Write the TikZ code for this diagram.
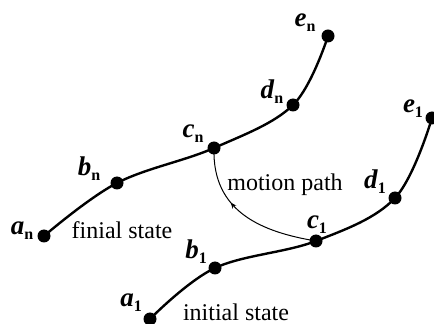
\documentclass[tikz,border=0pt]{standalone}
\usepackage{fontspec}
\setmainfont{Liberation Serif}
\usetikzlibrary{calc,arrows.meta,decorations.markings}

\newcommand{\ptname}[2]{\textbf{\textit{#1}}\raisebox{-0.4ex}{\fontsize{16}{16}\selectfont\bfseries #2}}

\begin{document}
\begin{tikzpicture}[x=1pt, y=1pt,
  dot/.style={circle, fill, inner sep=0pt, minimum size=13pt},
  lab/.style={font=\fontsize{27}{27}\selectfont, inner sep=0pt},
  txt/.style={font=\fontsize{24}{24}\selectfont, inner sep=0pt},
  track/.style={line width=2.4pt},
  motion/.style={line width=1pt, postaction={decorate},
    decoration={markings, mark=at position 0.62 with {\arrow{Stealth[length=6pt,width=5pt]}}}}]
  \useasboundingbox (0,0) rectangle (434,324);

  % final state
  \node[dot] (an) at (44,88) {};
  \node[dot] (bn) at (117,141) {};
  \node[dot] (cn) at (214,176) {};
  \node[dot] (dn) at (293,219) {};
  \node[dot] (en) at (328,288) {};

  % initial state
  \node[dot] (a1) at (150,5) {};
  \node[dot] (b1) at (215,56) {};
  \node[dot] (c1) at (316,83) {};
  \node[dot] (d1) at (395,126) {};
  \node[dot] (e1) at (432,206) {};

  % point names
  \node[lab] (an-l) at ($(an)+(-22,5)$) {\ptname{a}{n}};
  \node[lab] (bn-l) at ($(bn)+(-28,14)$) {\ptname{b}{n}};
  \node[lab] (cn-l) at ($(cn)+(-21,14)$) {\ptname{c}{n}};
  \node[lab] (dn-l) at ($(dn)+(-21,13)$) {\ptname{d}{n}};
  \node[lab] (en-l) at ($(en)+(-23,13)$) {\ptname{e}{n}};
  \node[lab] (a1-l) at ($(a1)+(-19,16)$) {\ptname{a}{1}};
  \node[lab] (b1-l) at ($(b1)+(-19,16)$) {\ptname{b}{1}};
  \node[lab] (c1-l) at ($(c1)+(1,16)$) {\ptname{c}{1}};
  \node[lab] (d1-l) at ($(d1)+(-20,16)$) {\ptname{d}{1}};
  \node[lab] (e1-l) at ($(e1)+(-19,9)$) {\ptname{e}{1}};

  \draw[track] plot[smooth, tension=0.6] coordinates {(an.center) (bn.center) (cn.center) (dn.center) (en.center)};
  \draw[track] plot[smooth, tension=0.6] coordinates {(a1.center) (b1.center) (c1.center) (d1.center) (e1.center)};
  \draw[motion] (c1.center) .. controls (262,92) and (212,112) .. (cn.center);

  \node[txt] (motion) at (285,139) {motion path};
  \node[txt] (final) at (122,94) {finial state};
  \node[txt] (initial) at (236,12) {initial state};
\end{tikzpicture}
\end{document}
